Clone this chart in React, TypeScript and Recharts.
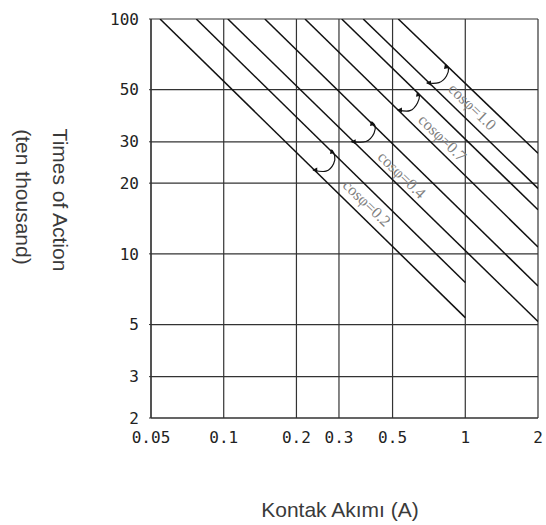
import React from "react";
import { LineChart, Line, XAxis, YAxis, CartesianGrid, ReferenceDot } from "recharts";

const xTicks = [0.05, 0.1, 0.2, 0.3, 0.5, 1, 2];
const yTicks = [2, 3, 5, 10, 20, 30, 50, 100];

// life lines, two per cos φ band
const band02Low = [{ x: 0.0545, y: 100 }, { x: 1, y: 5.35 }];
const band02High = [{ x: 0.077, y: 100 }, { x: 1, y: 7.55 }];
const band04Low = [{ x: 0.104, y: 100 }, { x: 2, y: 5.15 }];
const band04High = [{ x: 0.148, y: 100 }, { x: 2, y: 7.3 }];
const band07Low = [{ x: 0.217, y: 100 }, { x: 2, y: 10.7 }];
const band07High = [{ x: 0.308, y: 100 }, { x: 2, y: 15.4 }];
const band10Low = [{ x: 0.378, y: 100 }, { x: 2, y: 19.0 }];
const band10High = [{ x: 0.528, y: 100 }, { x: 2, y: 26.8 }];

// bracket arcs between the two edges of each band
const arc02 = [
  { x: 0.2348, y: 22.76 },
  { x: 0.2651, y: 22.5 },
  { x: 0.2850, y: 24.2 },
  { x: 0.2880, y: 26.12 },
  { x: 0.2807, y: 27.7 },
];
const arc04 = [
  { x: 0.3386, y: 30.04 },
  { x: 0.3882, y: 30.1 },
  { x: 0.4190, y: 32.6 },
  { x: 0.4230, y: 35.05 },
  { x: 0.4109, y: 36.45 },
];
const arc07 = [
  { x: 0.5264, y: 41.0 },
  { x: 0.59, y: 40.7 },
  { x: 0.634, y: 43.9 },
  { x: 0.646, y: 47.0 },
  { x: 0.637, y: 48.5 },
];
const arc10 = [
  { x: 0.694, y: 53.4 },
  { x: 0.778, y: 53.6 },
  { x: 0.836, y: 57.2 },
  { x: 0.852, y: 61.3 },
  { x: 0.832, y: 63.7 },
];

const bandLabels = [
  { x: 0.3917, y: 16.47, text: "cosφ=0.2" },
  { x: 0.547, y: 21.7, text: "cosφ=0.4" },
  { x: 0.8045, y: 31.2, text: "cosφ=0.7" },
  { x: 1.071, y: 42.3, text: "cosφ=1.0" },
];

const lifeLines = [band02Low, band02High, band04Low, band04High, band07Low, band07High, band10Low, band10High];
const arcs = [arc02, arc04, arc07, arc10];

const tickStyle = { fontFamily: "DejaVu Sans Mono", fontSize: 16, fill: "#222" };

const ArrowDot = (props: any) => {
  const { cx, cy, index, key } = props;
  if (index === 0) {
    return <polygon key={key} points={`${cx - 1},${cy} ${cx + 4},${cy - 2.5} ${cx + 4},${cy + 2.5}`} fill="#111" />;
  }
  if (index === 4) {
    return <polygon key={key} points={`${cx - 1},${cy - 1} ${cx - 2},${cy + 4} ${cx + 2.5},${cy + 3}`} fill="#111" />;
  }
  return <g key={key} />;
};

const YLabel = () => (
  <g fontFamily="Liberation Sans" fontSize={21} fill="#3a3a3a">
    <text x={60} y={200} textAnchor="middle" dominantBaseline="central" transform="rotate(90 60 200)">
      Times of Action
    </text>
    <text x={23} y={197} textAnchor="middle" dominantBaseline="central" transform="rotate(90 23 197)">
      (ten thousand)
    </text>
  </g>
);

const XLabel = () => (
  <text x={340} y={509} textAnchor="middle" dominantBaseline="central" fontFamily="Liberation Sans" fontSize={21} fill="#3a3a3a">
    Kontak Akımı (A)
  </text>
);

export default function App() {
  return (
    <div style={{ position: "absolute", left: 0, top: 0, background: "#fff" }}>
      <LineChart width={546} height={525} margin={{ top: 19, right: 8, left: 0, bottom: 0 }}>
        <CartesianGrid stroke="#333" strokeWidth={1.2} />
        <XAxis
          dataKey="x"
          type="number"
          scale="log"
          domain={[0.05, 2]}
          ticks={xTicks}
          allowDataOverflow
          height={107}
          tickLine={false}
          tickMargin={8}
          axisLine={{ stroke: "#333", strokeWidth: 1.2 }}
          tick={tickStyle}
          label={<XLabel />}
        />
        <YAxis
          dataKey="y"
          type="number"
          scale="log"
          domain={[2, 100]}
          ticks={yTicks}
          allowDataOverflow
          width={151}
          tickSize={2}
          tickMargin={10}
          tickLine={{ stroke: "#333" }}
          axisLine={{ stroke: "#333", strokeWidth: 1.2 }}
          tick={tickStyle}
          label={<YLabel />}
        />
        {lifeLines.map((d, i) => (
          <Line
            key={`life-${i}`}
            data={d}
            dataKey="y"
            type="linear"
            stroke="#111"
            strokeWidth={1.5}
            dot={false}
            activeDot={false}
            isAnimationActive={false}
          />
        ))}
        {arcs.map((d, i) => (
          <Line
            key={`arc-${i}`}
            data={d}
            dataKey="y"
            type="natural"
            stroke="#111"
            strokeWidth={1.2}
            dot={ArrowDot}
            activeDot={false}
            isAnimationActive={false}
          />
        ))}
        {bandLabels.map((l, i) => (
          <ReferenceDot
            key={`lbl-${i}`}
            x={l.x}
            y={l.y}
            r={0}
            ifOverflow="visible"
            shape={(p: any) => (
              <text
                x={p.cx}
                y={p.cy}
                transform={`rotate(44 ${p.cx} ${p.cy})`}
                textAnchor="middle"
                dominantBaseline="central"
                fontFamily="Liberation Serif"
                fontSize={16}
                fill="#808080"
              >
                {l.text}
              </text>
            )}
          />
        ))}
      </LineChart>
    </div>
  );
}
